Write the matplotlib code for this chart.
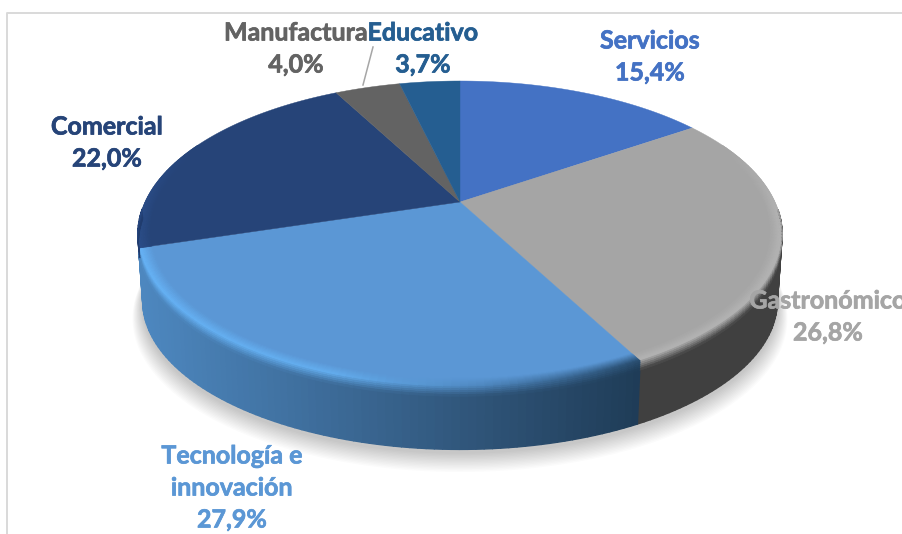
import numpy as np
import matplotlib
matplotlib.use("Agg")
import matplotlib.pyplot as plt
import matplotlib.patheffects as pe
from matplotlib.collections import PolyCollection
from matplotlib.colors import to_rgb

categories = ["Servicios", "Gastronómico", "Tecnología e\ninnovación", "Comercial", "Manufactura", "Educativo"]
values = [15.4, 26.8, 27.9, 22.0, 4.0, 3.7]
colors = ["#4472C4", "#A5A5A5", "#5B97D5", "#264478", "#636363", "#255E91"]
wall_colors = ["#2f5091", "#404040", None, "#1f3a6c", "#444444", "#1b4568"]
rim_colors = ["#4472C4", "#b4b4b4", None, "#2b4d88", "#636363", "#255E91"]
label_pos = [(650, 41), (828, 301), (232, 456), (107, 127), (296, 33), (423, 33)]

CX, CY = 460.0, 202.0
A, B, K = 315.0, 146.3, 0.209
DROP, SHRINK_X, SHRINK_Y = 68.0, 0.985, 0.97


def point(theta, r=1.0, z=0.0):
    # theta clockwise from 12 o'clock, z=0 top face, z=1 bottom face
    u = r * np.sin(theta)
    v = r * np.cos(theta)
    w = 1 + K * v
    x = A * u / w
    y = B * v / w
    sx = 1 - z * (1 - SHRINK_X)
    sy = 1 - z * (1 - SHRINK_Y)
    return CX + x * sx, CY - y * sy + z * DROP


def mix(c1, c2, t):
    t = float(np.clip(t, 0, 1))
    return tuple((1 - t) * a + t * b for a, b in zip(to_rgb(c1), to_rgb(c2)))


def tecno_wall(x):
    xs = [140, 300, 480, 640]
    cs = [to_rgb("#4d87bf"), to_rgb("#3f6f9e"), to_rgb("#2f5478"), to_rgb("#1f3c57")]
    return tuple(np.interp(x, xs, [c[i] for c in cs]) for i in range(3))


def tecno_rim(x):
    xs = [140, 330, 480, 640]
    cs = [to_rgb("#66b2f5"), to_rgb("#64aeef"), to_rgb("#4f88c0"), to_rgb("#2a4f72")]
    return tuple(np.interp(x, xs, [c[i] for c in cs]) for i in range(3))


def quad(a, b, z0, z1):
    return [point(a, 1, z0), point(b, 1, z0), point(b, 1, z1), point(a, 1, z1)]


fig = plt.figure(figsize=(9.02, 5.34), dpi=100, facecolor="white")
ax = fig.add_axes([0, 0, 1, 1])
ax.set_xlim(0, 902)
ax.set_ylim(534, 0)
ax.axis("off")

# chart frame, cut by the picture on the right and bottom
ax.plot([6.5, 6.5, 902], [534, 12.5, 12.5], color="#d9d9d9", lw=1.4)

total = sum(values)
edges = np.concatenate([[0], np.cumsum(values)]) / total * 2 * np.pi
circle = np.linspace(0, 2 * np.pi, 241)

# soft shadow under the pie
for i in range(14):
    grow = 1 + 0.0022 * (14 - i)
    xs, ys = point(circle, grow, 1.0)
    ax.fill(xs, ys + 3 + 0.9 * (14 - i), color="#000000", alpha=0.017, lw=0, zorder=1)

polys = []
poly_colors = []
tops = []
for i in range(len(values)):
    steps = max(int((edges[i + 1] - edges[i]) / np.radians(1.2)), 2)
    th = np.linspace(edges[i], edges[i + 1], steps + 1)
    # wall
    for a, b in zip(th[:-1], th[1:]):
        if np.cos((a + b) / 2) > -0.05:
            continue
        xm = point((a + b) / 2)[0]
        if categories[i] == "Comercial":
            # only a sliver of the dark wall shows beside the front slice
            polys.append(quad(a, b, 0, 0.3))
            poly_colors.append(to_rgb(wall_colors[i]))
            polys.append(quad(a, b, 0.3, 1))
            poly_colors.append(tecno_wall(xm))
        else:
            polys.append(quad(a, b, 0, 1))
            poly_colors.append(tecno_wall(xm) if wall_colors[i] is None else to_rgb(wall_colors[i]))
    # top face
    xs, ys = point(th)
    tops.append((np.r_[CX, xs], np.r_[CY, ys], colors[i]))

ax.add_collection(PolyCollection(polys, facecolors=poly_colors, edgecolors="face", linewidths=1.0, zorder=2))
for xs, ys, c in tops:
    ax.fill(xs, ys, color=c, lw=0.3, zorder=3)

# bevel: rings between top face and wall, fading out towards the back
rings = np.linspace(0, 1, 15)
polys = []
poly_colors = []
for i in range(len(values)):
    steps = max(int((edges[i + 1] - edges[i]) / np.radians(1.2)), 2)
    th = np.linspace(edges[i], edges[i + 1], steps + 1)
    for a, b in zip(th[:-1], th[1:]):
        cos_m = np.cos((a + b) / 2)
        strength = np.clip((0.42 - cos_m) / 0.5, 0, 1)
        if strength <= 0:
            continue
        xm = point((a + b) / 2)[0]
        rim = tecno_rim(xm) if rim_colors[i] is None else rim_colors[i]
        wall = tecno_wall(xm) if wall_colors[i] is None else wall_colors[i]
        for t0, t1 in zip(rings[:-1], rings[1:]):
            tm = (t0 + t1) / 2
            if tm > 0.65 and cos_m > -0.05:
                continue
            corners = []
            for t, ang in [(t0, a), (t0, b), (t1, b), (t1, a)]:
                if t < 0.65:
                    corners.append(point(ang, 0.962 + 0.038 * t / 0.65, 0))
                else:
                    corners.append(point(ang, 1, 0.15 * (t - 0.65) / 0.35))
            if tm < 0.6:
                col = mix(colors[i], rim, tm / 0.6)
            else:
                col = mix(rim, wall, (tm - 0.6) / 0.4)
            base = colors[i] if tm < 0.65 else wall
            polys.append(corners)
            poly_colors.append(mix(base, col, strength))
ax.add_collection(PolyCollection(polys, facecolors=poly_colors, edgecolors="face", linewidths=0.5, zorder=4))

# leader line for Manufactura
ax.plot([373, 363], [47, 85], color="#a6a6a6", lw=1.1, zorder=5)

for i in range(len(values)):
    x, y = label_pos[i]
    lines = categories[i].split("\n") + [f"{values[i]:.1f}%".replace(".", ",")]
    for n, line in enumerate(lines):
        ax.text(x, y + n * 32, line, color=colors[i], family="Lato", weight="bold", fontsize=18,
                ha="center", va="center", zorder=6,
                path_effects=[pe.withStroke(linewidth=0.5, foreground=colors[i])])

fig.savefig("out.png", dpi=100, facecolor="white")
